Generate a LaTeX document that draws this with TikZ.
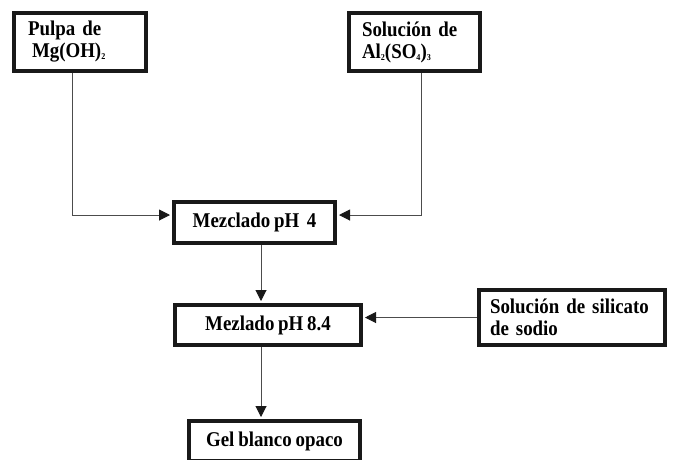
\documentclass[tikz,border=0pt]{standalone}
\usepackage{fontspec}
\setmainfont[FakeStretch=0.9, WordSpace=0.8]{Liberation Serif}
\usepackage{tikz}
\usetikzlibrary{arrows.meta, positioning, calc}

\newcommand{\indice}[1]{\raisebox{-2pt}{\fontsize{9}{9}\selectfont #1}}

\tikzset{
	caja/.style={draw=black!90, line width=4pt, fill=white, inner sep=0pt,
		font=\fontsize{21}{22}\selectfont\bfseries},
	flecha/.style={-{Triangle[length=11pt,width=11pt,color=black!90]}, draw=black!70, line width=1pt, shorten >=2pt}
}

\begin{document}
\begin{tikzpicture}[x=1pt, y=-1pt]
		\useasboundingbox (0,0) rectangle (676,459);
		\clip (0,0) rectangle (676,459);

		\node[caja, minimum width=132pt, minimum height=58pt, text width=104pt, align=left] (Pulpa) at (80,42) {Pulpa de\\
			\hspace{4pt}Mg(OH)\indice{2}};
		\node[caja, minimum width=131pt, minimum height=58pt, text width=105pt, align=left] (Sulfato) at (414.5,42) {Soluci\'on de\\
			Al\indice{2}(SO\indice{4})\indice{3}};
		\node[caja, minimum width=161pt, minimum height=41pt] (Mezclado 4) at (254.5,222.5) {Mezclado pH\ \ 4};
		\node[caja, minimum width=186pt, minimum height=40pt] (Mezclado 84) at (268,325) {Mezlado pH 8.4};
		\node[caja, minimum width=186pt, minimum height=55pt, text width=164pt, align=left] (Silicato) at (572,317.5) {Soluci\'on de silicato\\
			de sodio};
		\node[caja, minimum width=171pt, minimum height=40pt] (Gel) at (274.5,441) {Gel blanco opaco};

		\coordinate (eje) at (261,0);

		\draw[flecha] ([xshift=-8pt]Pulpa.south) |- ([yshift=7.5pt]Mezclado 4.west);
		\draw[flecha] ([xshift=7pt]Sulfato.south) |- ([yshift=7.5pt]Mezclado 4.east);
		\draw[flecha] (Mezclado 4.south -| eje) -- (Mezclado 84.north -| eje);
		\draw[flecha] (Silicato.west) -- (Silicato.west -| Mezclado 84.east);
		\draw[flecha] (Mezclado 84.south -| eje) -- (Gel.north -| eje);
	\end{tikzpicture}
\end{document}
